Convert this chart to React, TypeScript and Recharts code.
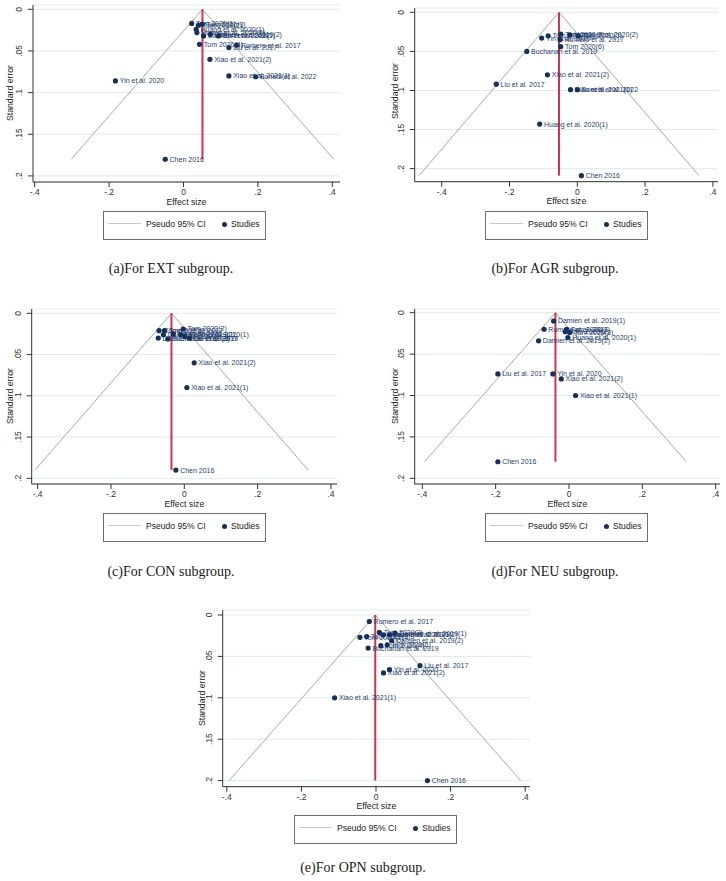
import React from 'react';
import {
  ScatterChart,
  Scatter,
  XAxis,
  YAxis,
  CartesianGrid,
  ReferenceLine,
} from 'recharts';

// effect size (es) and standard error (se) per study
const extStudies = [
  { study: 'Tom 2020(1)', es: 0.022, se: 0.017 },
  { study: 'Tom 2020(2)', es: 0.040, se: 0.019 },
  { study: 'Tom 2020(3)', es: 0.050, se: 0.018 },
  { study: 'Huang et al. 2020(1)', es: 0.034, se: 0.024 },
  { study: 'Huang et al. 2020(2)', es: 0.036, se: 0.028 },
  { study: 'Damien et al. 2019(1)', es: 0.054, se: 0.032 },
  { study: 'Damien et al. 2019(2)', es: 0.072, se: 0.030 },
  { study: 'Sun et al. 2022', es: 0.094, se: 0.032 },
  { study: 'Tom 2020(4)', es: 0.043, se: 0.042 },
  { study: 'Liu et al. 2017', es: 0.122, se: 0.046 },
  { study: 'Romero et al. 2017', es: 0.143, se: 0.043 },
  { study: 'Xiao et al. 2021(2)', es: 0.071, se: 0.060 },
  { study: 'Xiao et al. 2021(1)', es: 0.122, se: 0.080 },
  { study: 'Bonetti et al. 2022', es: 0.194, se: 0.081 },
  { study: 'Yin et al. 2020', es: -0.183, se: 0.086 },
  { study: 'Chen 2016', es: -0.049, se: 0.180 },
];

const agrStudies = [
  { study: 'Tom 2020(1)', es: -0.086, se: 0.030 },
  { study: 'Yin et al. 2020', es: -0.105, se: 0.033 },
  { study: 'Tom 2020(2)', es: -0.049, se: 0.028 },
  { study: 'Romero et al. 2017', es: -0.051, se: 0.035 },
  { study: 'Tom 2020(3)', es: 0.003, se: 0.030 },
  { study: 'Huang et al. 2020(2)', es: -0.022, se: 0.029 },
  { study: 'Tom 2020(6)', es: -0.049, se: 0.044 },
  { study: 'Buchanan et al. 2019', es: -0.149, se: 0.050 },
  { study: 'Xiao et al. 2021(2)', es: -0.088, se: 0.080 },
  { study: 'Liu et al. 2017', es: -0.239, se: 0.092 },
  { study: 'Xiao et al. 2021(1)', es: -0.020, se: 0.099 },
  { study: 'Bonetti et al. 2022', es: 0.000, se: 0.099 },
  { study: 'Huang et al. 2020(1)', es: -0.111, se: 0.143 },
  { study: 'Chen 2016', es: 0.012, se: 0.209 },
];

const conStudies = [
  { study: 'Romero et al. 2017', es: -0.069, se: 0.021 },
  { study: 'Tom 2020(1)', es: -0.054, se: 0.021 },
  { study: 'Damien et al. 2019(1)', es: -0.071, se: 0.030 },
  { study: 'Damien et al. 2019(2)', es: -0.057, se: 0.026 },
  { study: 'Buchanan et al. 2019', es: -0.045, se: 0.031 },
  { study: 'Yin et al. 2020', es: -0.030, se: 0.025 },
  { study: 'Huang et al. 2020(1)', es: -0.010, se: 0.026 },
  { study: 'Tom 2020(2)', es: -0.003, se: 0.019 },
  { study: 'Tom 2020(3)', es: 0.002, se: 0.028 },
  { study: 'Liu et al. 2017', es: 0.014, se: 0.030 },
  { study: 'Xiao et al. 2021(2)', es: 0.027, se: 0.060 },
  { study: 'Xiao et al. 2021(1)', es: 0.007, se: 0.090 },
  { study: 'Chen 2016', es: -0.023, se: 0.190 },
];

const neuStudies = [
  { study: 'Damien et al. 2019(1)', es: -0.042, se: 0.010 },
  { study: 'Romero et al. 2017', es: -0.068, se: 0.020 },
  { study: 'Tom 2020(1)', es: -0.007, se: 0.020 },
  { study: 'Tom 2020(2)', es: -0.010, se: 0.023 },
  { study: 'Tom 2020(3)', es: 0.002, se: 0.024 },
  { study: 'Huang et al. 2020(1)', es: -0.003, se: 0.030 },
  { study: 'Damien et al. 2019(2)', es: -0.083, se: 0.034 },
  { study: 'Liu et al. 2017', es: -0.194, se: 0.074 },
  { study: 'Yin et al. 2020', es: -0.044, se: 0.074 },
  { study: 'Xiao et al. 2021(2)', es: -0.021, se: 0.080 },
  { study: 'Xiao et al. 2021(1)', es: 0.018, se: 0.100 },
  { study: 'Chen 2016', es: -0.194, se: 0.180 },
];

const opnStudies = [
  { study: 'Romero et al. 2017', es: -0.018, se: 0.008 },
  { study: 'Tom 2020(1)', es: -0.043, se: 0.027 },
  { study: 'Tom 2020(2)', es: -0.025, se: 0.026 },
  { study: 'Tom 2020(3)', es: 0.009, se: 0.021 },
  { study: 'Huang et al. 2020(1)', es: 0.020, se: 0.024 },
  { study: 'Huang et al. 2020(2)', es: 0.036, se: 0.024 },
  { study: 'Damien et al. 2019(1)', es: 0.051, se: 0.022 },
  { study: 'Damien et al. 2019(2)', es: 0.042, se: 0.031 },
  { study: 'Tom 2020(4)', es: 0.013, se: 0.037 },
  { study: 'Tom 2020(6)', es: 0.030, se: 0.036 },
  { study: 'Buchanan et al. 2019', es: -0.021, se: 0.040 },
  { study: 'Liu et al. 2017', es: 0.118, se: 0.061 },
  { study: 'Yin et al. 2020', es: 0.036, se: 0.066 },
  { study: 'Xiao et al. 2021(2)', es: 0.020, se: 0.070 },
  { study: 'Xiao et al. 2021(1)', es: -0.111, se: 0.100 },
  { study: 'Chen 2016', es: 0.138, se: 0.200 },
];

// pseudo 95% CI funnel: [lower end, pooled effect, upper end, max se]
const extFunnel = [-0.302, 0.051, 0.404, 0.18];
const agrFunnel = [-0.467, -0.054, 0.359, 0.209];
const conFunnel = [-0.407, -0.035, 0.338, 0.19];
const neuFunnel = [-0.394, -0.037, 0.32, 0.18];
const opnFunnel = [-0.394, -0.002, 0.388, 0.2];

const xTicks = [-0.4, -0.2, 0, 0.2, 0.4];
const yTicks = [0, 0.05, 0.1, 0.15, 0.2];

const SANS = '"Liberation Sans", Arial, Helvetica, sans-serif';
const SERIF = '"Liberation Serif", "Times New Roman", serif';
const NAVY = '#13305f';
const AXIS = '#333';

const fmt = (v: number) => (v === 0 ? '0' : String(v).replace('0.', '.'));

// page layout of each panel (pixels), plus pixel calibration of value 0 and px per unit
const panels = [
  {
    data: extStudies, funnel: extFunnel, caption: '(a)For EXT subgroup.',
    box: { left: 0, top: 0, w: 352, h: 212 }, plot: { l: 33, r: 340, t: 5, b: 182 },
    x0: 183.5, kx: 372, y0: 9.3, ky: 833,
    yTitle: { x: 10, y: 92.6 }, legend: { left: 103, top: 211 }, cap: { x: 171, y: 269 },
  },
  {
    data: agrStudies, funnel: agrFunnel, caption: '(b)For AGR subgroup.',
    box: { left: 363, top: 0, w: 363, h: 212 }, plot: { l: 414.7, r: 718, t: 8, b: 181.7 },
    x0: 577.3, kx: 339, y0: 12.3, ky: 781.7,
    yTitle: { x: 395, y: 90.5 }, legend: { left: 485, top: 211 }, cap: { x: 555, y: 269 },
  },
  {
    data: conStudies, funnel: conFunnel, caption: '(c)For CON subgroup.',
    box: { left: 0, top: 300, w: 352, h: 212 }, plot: { l: 31.7, r: 337, t: 309, b: 484 },
    x0: 184.3, kx: 366.7, y0: 313.3, ky: 825,
    yTitle: { x: 10, y: 395.8 }, legend: { left: 103, top: 513 }, cap: { x: 171, y: 572 },
  },
  {
    data: neuStudies, funnel: neuFunnel, caption: '(d)For NEU subgroup.',
    box: { left: 363, top: 300, w: 363, h: 212 }, plot: { l: 414.7, r: 720, t: 309, b: 484 },
    x0: 569, kx: 366.7, y0: 312.7, ky: 828,
    yTitle: { x: 395, y: 395.5 }, legend: { left: 485, top: 513 }, cap: { x: 555, y: 572 },
  },
  {
    data: opnStudies, funnel: opnFunnel, caption: '(e)For OPN subgroup.',
    box: { left: 180, top: 600, w: 360, h: 215 }, plot: { l: 222.7, r: 530, t: 610, b: 786.7 },
    x0: 376, kx: 373, y0: 615, ky: 828,
    yTitle: { x: 201.7, y: 697.8 }, legend: { left: 294, top: 815 }, cap: { x: 363, y: 868 },
  },
];

const YTick = (props: any) => {
  const { x, y, payload } = props;
  return (
    <text
      x={x}
      y={y}
      transform={`rotate(-90 ${x} ${y})`}
      textAnchor="middle"
      fontSize={8.5}
      fontFamily={SANS}
      fill={AXIS}
    >
      {fmt(payload.value)}
    </text>
  );
};

// marker plus its study label to the right, like Stata's mlabel
const StudyMark = (props: any) => {
  const { cx, cy, payload } = props;
  return (
    <g>
      <circle cx={cx} cy={cy} r={2.6} fill={NAVY} />
      <text x={cx + 4.3} y={cy} dy="0.35em" fontSize={7} fontFamily={SANS} fill="#1f3d6e">
        {payload.study}
      </text>
    </g>
  );
};

function StudiesLegend({ left, top }: { left: number; top: number }) {
  return (
    <div
      style={{
        position: 'absolute', left, top, width: 163, height: 29, boxSizing: 'border-box',
        border: '1px solid #6e6e6e', fontFamily: SANS, fontSize: 8.6, color: '#222', lineHeight: '10px',
      }}
    >
      <div style={{ position: 'absolute', left: 4, top: 11, width: 33, borderTop: '1.5px solid #c8c8c8' }} />
      <div style={{ position: 'absolute', left: 42, top: 7, whiteSpace: 'nowrap' }}>Pseudo 95% CI</div>
      <div style={{ position: 'absolute', left: 118, top: 9.5, width: 5, height: 5, borderRadius: '50%', background: NAVY }} />
      <div style={{ position: 'absolute', left: 127, top: 7, whiteSpace: 'nowrap' }}>Studies</div>
    </div>
  );
}

function FunnelPanel({ p }: { p: (typeof panels)[number] }) {
  const { box, plot } = p;
  const xDomain = [(plot.l - p.x0) / p.kx, (plot.r - p.x0) / p.kx];
  const yDomain = [(plot.t - p.y0) / p.ky, (plot.b - p.y0) / p.ky];
  const xAxisH = box.top + box.h - plot.b;
  const [lo, mean, hi, seMax] = p.funnel;
  return (
    <>
      <div style={{ position: 'absolute', left: box.left, top: box.top }}>
        <ScatterChart
          width={box.w}
          height={box.h}
          margin={{ top: plot.t - box.top, right: box.left + box.w - plot.r, bottom: 0, left: 0 }}
        >
          <CartesianGrid vertical={false} stroke="#dfe9ed" />
          <XAxis
            type="number"
            dataKey="es"
            domain={xDomain}
            allowDataOverflow
            ticks={xTicks}
            interval={0}
            tickFormatter={fmt}
            height={xAxisH}
            tickSize={5}
            stroke={AXIS}
            tick={{ fontSize: 8.5, fill: AXIS, fontFamily: SANS }}
            label={{ value: 'Effect size', position: 'insideBottom', offset: xAxisH - 22.6, fontSize: 8.7, fill: '#222', fontFamily: SANS }}
          />
          <YAxis
            type="number"
            dataKey="se"
            domain={yDomain}
            allowDataOverflow
            reversed
            ticks={yTicks}
            interval={0}
            width={plot.l - box.left}
            tickSize={5}
            tickMargin={6}
            stroke={AXIS}
            tick={<YTick />}
          />
          <ReferenceLine segment={[{ x: lo, y: seMax }, { x: mean, y: 0 }]} stroke="#a8a8a8" strokeWidth={1} />
          <ReferenceLine segment={[{ x: mean, y: 0 }, { x: hi, y: seMax }]} stroke="#a8a8a8" strokeWidth={1} />
          <ReferenceLine segment={[{ x: mean, y: 0 }, { x: mean, y: seMax }]} stroke="#d6304d" strokeWidth={2} />
          <Scatter data={p.data} fill={NAVY} shape={StudyMark} isAnimationActive={false} />
        </ScatterChart>
      </div>
      <div
        style={{
          position: 'absolute', left: p.yTitle.x, top: p.yTitle.y, whiteSpace: 'nowrap',
          transform: 'translate(-50%, -50%) rotate(-90deg)', fontFamily: SANS, fontSize: 8.7, color: '#222',
        }}
      >
        Standard error
      </div>
      <StudiesLegend left={p.legend.left} top={p.legend.top} />
      <div
        style={{
          position: 'absolute', left: p.cap.x, top: p.cap.y, whiteSpace: 'nowrap',
          transform: 'translate(-50%, -50%)', fontFamily: SERIF, fontSize: 14, color: '#1a1a1a',
        }}
      >
        {p.caption}
      </div>
    </>
  );
}

export default function App() {
  return (
    <div style={{ position: 'absolute', left: 0, top: 0, width: 726, height: 881, background: '#fff', overflow: 'hidden' }}>
      {panels.map((p) => (
        <FunnelPanel key={p.caption} p={p} />
      ))}
    </div>
  );
}
